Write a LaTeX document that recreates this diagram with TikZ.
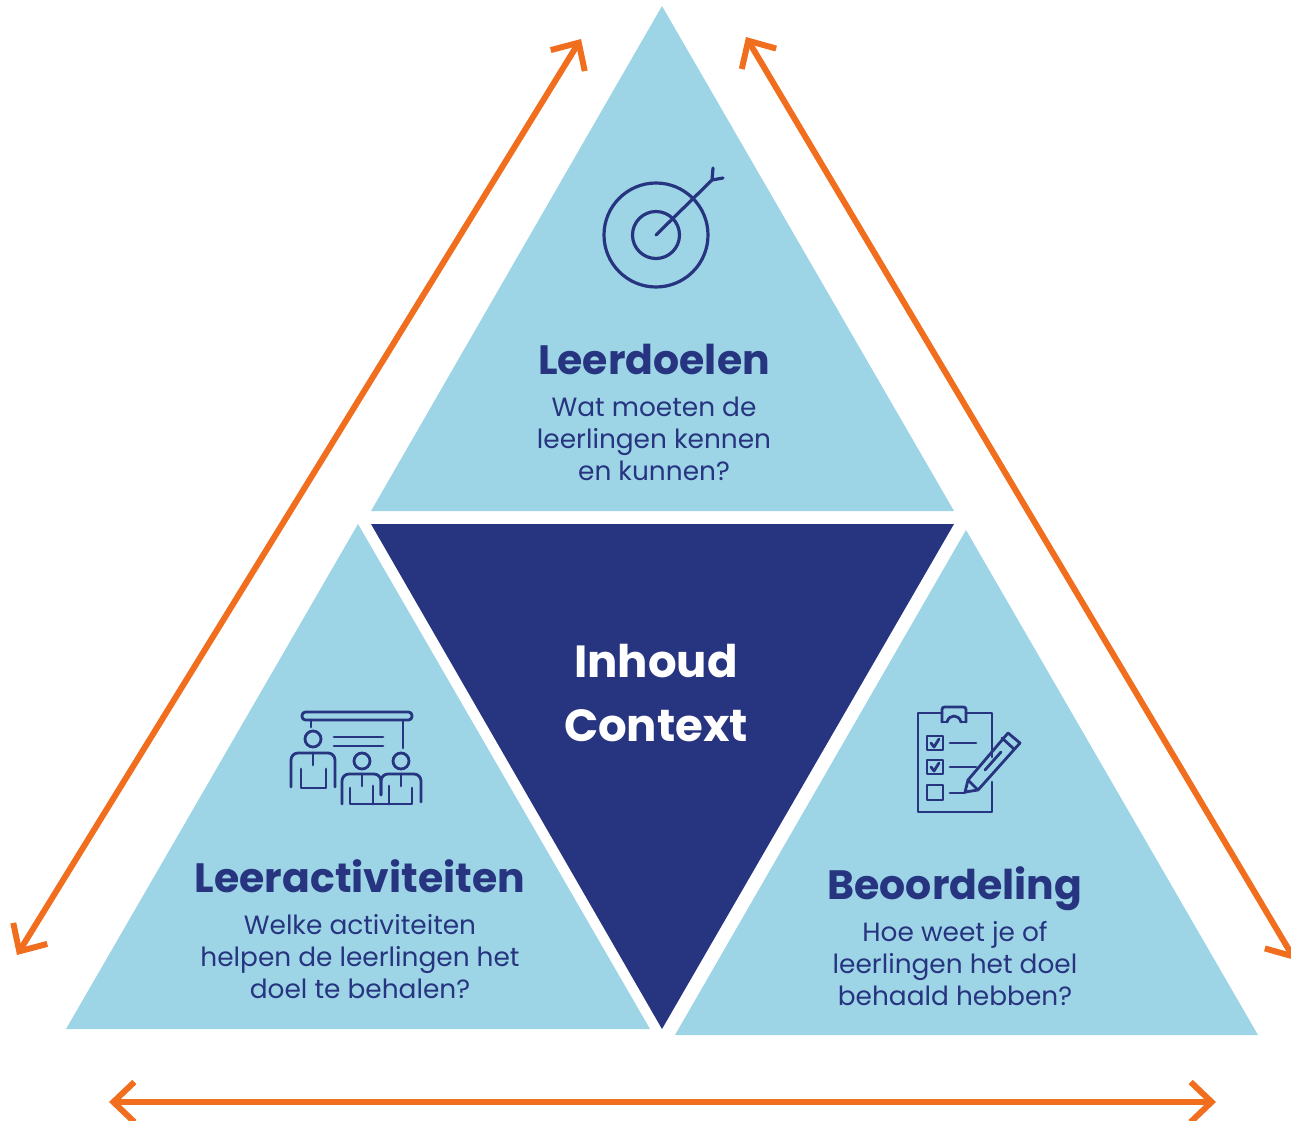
\documentclass[tikz,border=0pt]{standalone}
\usepackage{fontspec}
\setmainfont{Poppins}
\usetikzlibrary{arrows.meta}
\definecolor{lightb}{HTML}{9DD5E6}
\definecolor{darkb}{HTML}{27347F}
\definecolor{orangeb}{HTML}{F06E1E}
\tikzset{
  tri/.style={fill=lightb,draw=none},
  dbl/.style={draw=orangeb,line width=6pt,{Straight Barb[length=21pt,width=40pt,line width=6pt]}-{Straight Barb[length=21pt,width=40pt,line width=6pt]}},
  icon/.style={draw=darkb,line width=3.2pt,line cap=round,line join=round},
  icon thin/.style={draw=darkb,line width=2.8pt,line cap=round,line join=round},
  title/.style={text=darkb,anchor=base,font=\fontsize{41}{41}\selectfont\bfseries,inner sep=0pt},
  body/.style={text=darkb,anchor=base,align=center,font=\fontsize{26.4}{32}\selectfont,inner sep=0pt},
  center text/.style={text=white,anchor=base,font=\fontsize{45}{45}\selectfont\bfseries,inner sep=0pt}
}
\begin{document}
\begin{tikzpicture}[x=1pt,y=-1pt]
\useasboundingbox (0,0) rectangle (1291,1120);
\clip (0,0) rectangle (1291,1120);
% triangles
\fill[tri] (662,6) -- (954,511) -- (371,511) -- cycle;
\fill[tri] (358,524) -- (650,1029) -- (66,1029) -- cycle;
\fill[tri] (966,530) -- (1258,1035) -- (675,1035) -- cycle;
\fill[darkb] (371,524) -- (954,524) -- (662,1029) -- cycle;
% arrows
\coordinate (la) at (581,39);
\coordinate (lb) at (17,955);
\coordinate (ra) at (746,37);
\coordinate (rb) at (1295,960);
\coordinate (ba) at (109,1102);
\coordinate (bb) at (1216,1102);
\draw[dbl] (la) -- (lb);
\draw[dbl] (ra) -- (rb);
\draw[dbl] (ba) -- (bb);
% target icon
\draw[icon] (656,235) circle (52);
\draw[icon] (656,235) circle (23.5);
\draw[icon] (656,235) -- (712,180) (713,168) -- (712,180) -- (723,178);
% classroom icon
\draw[icon thin,rounded corners=3.5pt] (302,712) rectangle (412,720);
\draw[icon thin] (311,720) -- (311,727) (403,720) -- (403,748);
\draw[icon thin] (313,739) circle (8);
\draw[icon thin] (334,737) -- (383,737) (334,746) -- (383,746);
\draw[icon thin,rounded corners=7pt] (291,787) -- (291,753) -- (335,753) -- (335,787);
\draw[icon thin] (313,753) -- (313,765);
\draw[icon thin] (301,769) -- (301,788) -- (326,788) -- (326,769);
\draw[icon thin] (362,761) circle (8) (401,761) circle (8);
\draw[icon thin,rounded corners=7pt] (342,804) -- (342,774) -- (381,774) -- (381,795);
\draw[icon thin,rounded corners=7pt] (381,795) -- (381,774) -- (421,774) -- (421,802);
\draw[icon thin] (362,774) -- (362,786) (401,774) -- (401,786);
\draw[icon thin] (350,788) -- (350,804) -- (412,804) -- (412,788);
\draw[icon thin] (373,786) -- (373,804) (389,786) -- (389,804);
% checklist icon
\draw[icon thin] (942,713) -- (918,713) -- (918,812) -- (992,812) -- (992,782);
\draw[icon thin] (966,713) -- (992,713) -- (992,757);
\draw[icon thin,rounded corners=2.5pt] (942,722) -- (942,707) -- (966,707) -- (966,722);
\draw[icon thin] (947,722) .. controls (949,714) and (959,714) .. (961,722);
\draw[icon thin] (942,722) -- (947,722) (961,722) -- (966,722);
\draw[icon thin] (927,736) rectangle (943,750) (927,760) rectangle (943,774) (927,785) rectangle (943,800);
\draw[icon thin] (931,743) -- (934,747) -- (939,739) (931,767) -- (934,771) -- (939,763);
\draw[icon thin] (950,743) -- (976,743) (950,767) -- (976,767) (950,793) -- (965,793);
\draw[icon thin] (968,780) -- (1008,733) -- (1020,743) -- (978,790) -- (965,792) -- cycle (968,780) -- (978,790);
\draw[icon thin] (1002,738) -- (1014,749) (985,770) -- (1001,752);
% texts
\node[title] (t1) at (654,374) {Leerdoelen};
\node[body] (b1) at (654,416) {Wat moeten de};
\node[body] (b1b) at (654,448) {leerlingen kennen};
\node[body] (b1c) at (654,480) {en kunnen?};
\node[title] (t2) at (360,892) {Leeractiviteiten};
\node[body] (b2) at (360,934) {Welke activiteiten};
\node[body] (b2b) at (360,966) {helpen de leerlingen het};
\node[body] (b2c) at (360,998) {doel te behalen?};
\node[title] (t3) at (955,899) {Beoordeling};
\node[body] (b3) at (955,941) {Hoe weet je of};
\node[body] (b3b) at (955,973) {leerlingen het doel};
\node[body] (b3c) at (955,1005) {behaald hebben?};
\node[center text] (c1) at (656,677) {Inhoud};
\node[center text] (c2) at (656,741) {Context};
\end{tikzpicture}
\end{document}
